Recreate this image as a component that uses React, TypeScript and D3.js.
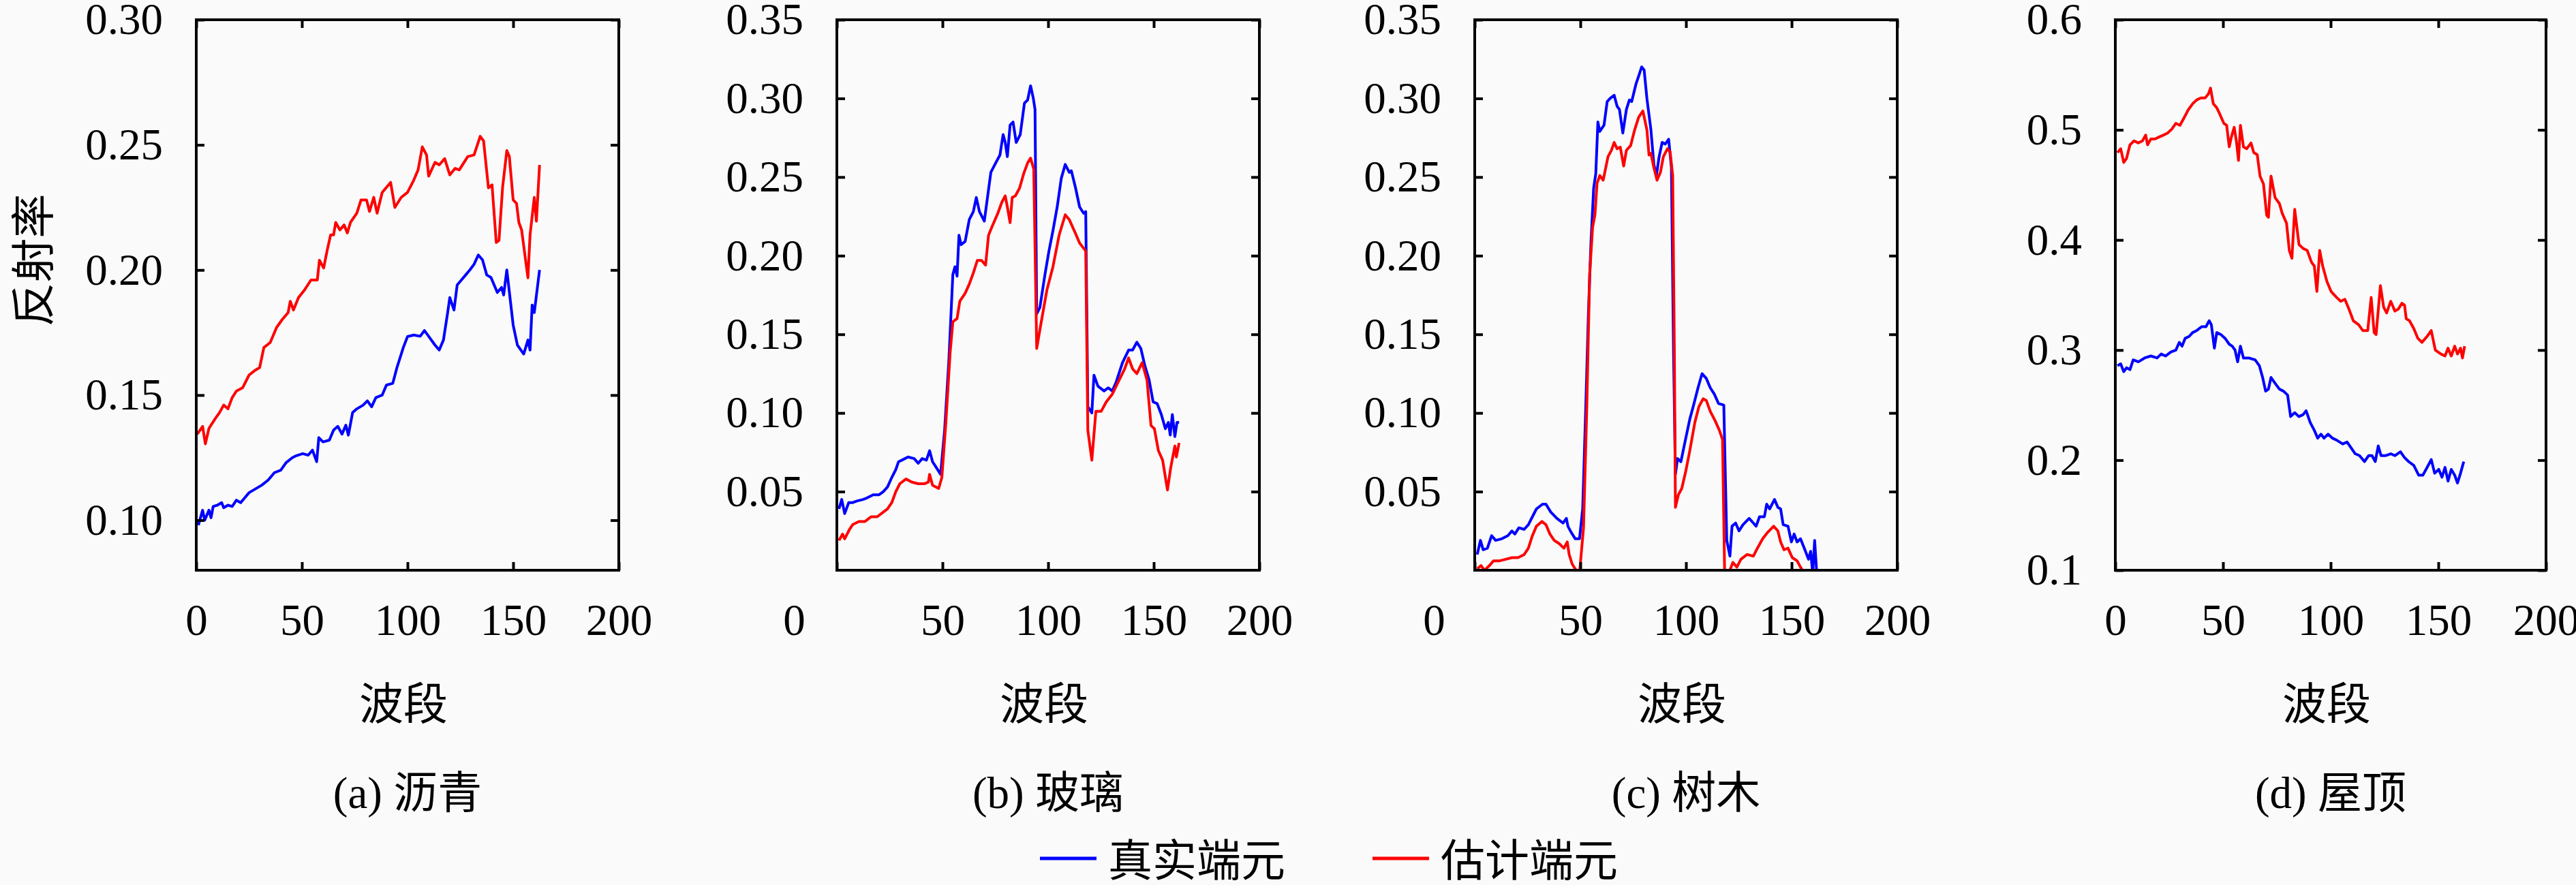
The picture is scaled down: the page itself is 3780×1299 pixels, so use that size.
import { useEffect, useRef } from "react";
import * as d3 from "d3";

type Pt = [number, number]; // [band, reflectance]

// ---- data ----
const asphaltTrue: Pt[] = [
  [1, 0.098], [3, 0.104], [4, 0.1], [6, 0.104], [7, 0.101], [8, 0.1055], [10, 0.106], [12, 0.107], [13, 0.105],
  [15, 0.106], [17, 0.1055], [19, 0.108], [21, 0.107], [23, 0.109], [25, 0.111], [28, 0.1125], [31, 0.114],
  [34, 0.116], [37, 0.119], [40, 0.12], [42.5, 0.123], [45.5, 0.125], [47.4, 0.1258], [50.4, 0.1266], [53, 0.126],
  [55, 0.128], [57, 0.1234], [58, 0.133], [60, 0.1313], [63, 0.132], [65, 0.136], [67, 0.1375], [69, 0.1344],
  [70.8, 0.138], [72, 0.134], [74, 0.143], [76, 0.1445], [79, 0.146], [81, 0.1477], [83, 0.1453], [85, 0.149],
  [88, 0.15], [90, 0.154], [93, 0.1547], [95, 0.161], [98, 0.169], [100, 0.1734], [103, 0.174], [106, 0.1735],
  [108, 0.1758], [110, 0.1735], [113, 0.17], [115, 0.168], [117, 0.172], [119, 0.183], [120, 0.189], [122, 0.184],
  [123.5, 0.194], [125.5, 0.196], [127.5, 0.198], [129.5, 0.2], [131.5, 0.2023], [133.5, 0.206], [135.5, 0.204],
  [137.5, 0.198], [139.5, 0.197], [142.5, 0.191], [144.5, 0.193], [145.5, 0.19], [147, 0.2], [150, 0.178],
  [152, 0.17], [155, 0.1664], [157, 0.172], [158, 0.168], [159, 0.186], [160, 0.183], [162.5, 0.2],
];
const asphaltEst: Pt[] = [
  [0.5, 0.1344], [3, 0.1375], [4.3, 0.1305], [6, 0.1367], [9, 0.1406], [11, 0.143], [13, 0.146], [15, 0.1445],
  [17, 0.149], [19, 0.1516], [22, 0.153], [25, 0.158], [28, 0.16], [30, 0.161], [32, 0.169], [35, 0.171],
  [38, 0.177], [40.5, 0.18], [43.5, 0.183], [44.5, 0.1875], [46, 0.184], [48.4, 0.189], [51.4, 0.1922],
  [54.3, 0.196], [57.3, 0.196], [58.3, 0.2039], [60.3, 0.2008], [62, 0.208], [63.6, 0.214], [65, 0.214],
  [66, 0.219], [68, 0.216], [70, 0.218], [71.5, 0.2148], [73, 0.219], [76, 0.2227], [78, 0.228], [80.6, 0.228],
  [82, 0.2234], [84, 0.229], [85.6, 0.2227], [88, 0.231], [92, 0.235], [94, 0.225], [97, 0.229], [100, 0.231],
  [103, 0.236], [105, 0.24], [107, 0.2492], [109, 0.246], [110, 0.2375], [113, 0.243], [115, 0.242],
  [117.6, 0.2445], [120, 0.238], [122.5, 0.2406], [124.5, 0.24], [128.5, 0.2453], [131.5, 0.246], [134.4, 0.2534],
  [136, 0.2516], [138.3, 0.2328], [140, 0.234], [142, 0.211], [143.3, 0.2118], [145, 0.233], [147, 0.2477],
  [148.2, 0.2453], [150, 0.228], [151.6, 0.2266], [152.7, 0.219], [154, 0.216], [156.5, 0.2], [157, 0.1969],
  [158, 0.214], [160, 0.229], [161, 0.2195], [162.5, 0.242],
];
const glassTrue: Pt[] = [
  [1, 0.039], [2.3, 0.045], [3.7, 0.036], [5.6, 0.043], [7.5, 0.043], [9.5, 0.044], [12.4, 0.045], [14.3, 0.046],
  [17.2, 0.048], [20, 0.048], [22, 0.05], [24, 0.053], [26, 0.059], [27.9, 0.064], [29.2, 0.069], [30.8, 0.07],
  [33.7, 0.072], [36.6, 0.071], [38.5, 0.068], [40.4, 0.071], [42.4, 0.07], [43.9, 0.076], [45.3, 0.069],
  [47.2, 0.065], [49.1, 0.061], [51, 0.089], [53, 0.133], [54.9, 0.188], [55.9, 0.193], [56.9, 0.187],
  [57.8, 0.213], [58.8, 0.207], [60.7, 0.209], [62.7, 0.223], [64.6, 0.228], [66, 0.237], [67.5, 0.228],
  [69.8, 0.222], [71.4, 0.238], [72.9, 0.253], [75.2, 0.259], [77.2, 0.264], [78.7, 0.277], [79.7, 0.272],
  [80.7, 0.263], [82, 0.283], [83.4, 0.285], [84.9, 0.272], [86.8, 0.277], [88.8, 0.297], [90.3, 0.299],
  [91.7, 0.308], [93, 0.3], [93.8, 0.293], [94.6, 0.163], [96.1, 0.167], [98.5, 0.188], [100.4, 0.203],
  [102.3, 0.216], [104.3, 0.231], [106.2, 0.249], [108.1, 0.258], [110, 0.253], [111, 0.254], [113, 0.243],
  [114.9, 0.231], [116.8, 0.227], [117.8, 0.228], [118.8, 0.104], [120.7, 0.1], [121.7, 0.124], [123.6, 0.117],
  [126.5, 0.114], [128.4, 0.116], [130.4, 0.114], [132.3, 0.12], [135.2, 0.132], [138.1, 0.14], [140, 0.14],
  [142, 0.145], [143.9, 0.141], [145.8, 0.13], [147.8, 0.121], [149.7, 0.107], [151.6, 0.106], [153.6, 0.099],
  [155.5, 0.09], [156.9, 0.094], [157.8, 0.086], [158.8, 0.099], [160, 0.085], [161, 0.094], [162, 0.094],
];
const glassEst: Pt[] = [
  [1, 0.019], [2.7, 0.023], [3.7, 0.02], [6, 0.026], [7.5, 0.029], [10.4, 0.031], [13.3, 0.031], [16.2, 0.034],
  [19.1, 0.034], [22, 0.037], [24, 0.039], [26, 0.043], [27.9, 0.05], [29.8, 0.055], [32.7, 0.058], [35.6, 0.056],
  [38.5, 0.055], [41.4, 0.055], [43.3, 0.056], [43.9, 0.061], [45.3, 0.054], [48.2, 0.052], [49.7, 0.059],
  [51.6, 0.094], [53.6, 0.138], [54.9, 0.158], [56.9, 0.16], [58.2, 0.171], [60.7, 0.176], [62.7, 0.182],
  [64.6, 0.189], [66.5, 0.197], [68.5, 0.197], [70.4, 0.194], [71.8, 0.213], [73.3, 0.218], [76.2, 0.227],
  [78.1, 0.234], [79.7, 0.238], [80.7, 0.231], [82, 0.221], [83, 0.237], [84.5, 0.238], [86.5, 0.243],
  [88.4, 0.252], [90.3, 0.259], [91.7, 0.262], [93.2, 0.255], [94.6, 0.141], [96.5, 0.156], [99.4, 0.178],
  [102.3, 0.193], [105.2, 0.213], [108.1, 0.226], [110, 0.223], [113, 0.214], [114.9, 0.208], [117.8, 0.203],
  [118.8, 0.089], [120.7, 0.07], [122.6, 0.101], [125.1, 0.101], [127.5, 0.107], [130.4, 0.112], [133.3, 0.12],
  [136.2, 0.128], [138.1, 0.135], [140, 0.128], [142, 0.125], [144.5, 0.132], [146.8, 0.121], [148.7, 0.092],
  [150.3, 0.09], [152.2, 0.076], [154.2, 0.07], [156.5, 0.051], [158, 0.065], [160, 0.079], [160.7, 0.072],
  [162, 0.081],
];
const treeTrue: Pt[] = [
  [1.2, 0.01], [2.7, 0.019], [4, 0.013], [6, 0.014], [8, 0.022], [9.9, 0.019], [12.8, 0.02], [15.7, 0.022],
  [17.6, 0.025], [19, 0.023], [20.9, 0.027], [23.4, 0.026], [25.4, 0.029], [27.3, 0.034], [29.2, 0.039],
  [32.1, 0.042], [33.7, 0.042], [36, 0.037], [38.9, 0.033], [41.8, 0.03], [43.4, 0.033], [44.1, 0.028],
  [45.7, 0.024], [47.6, 0.02], [49.6, 0.02], [51.1, 0.039], [52.5, 0.101], [53.8, 0.163], [55, 0.208],
  [56.3, 0.243], [57.3, 0.252], [58.3, 0.285], [59.2, 0.279], [61.2, 0.283], [62.7, 0.298], [64.1, 0.3],
  [66, 0.302], [67.4, 0.295], [68.5, 0.293], [70.1, 0.278], [71.8, 0.293], [73.2, 0.299], [74.3, 0.298],
  [76.3, 0.309], [77.8, 0.315], [79, 0.32], [80.2, 0.318], [81.5, 0.3], [83.4, 0.28], [84.8, 0.258], [86, 0.251],
  [87.3, 0.263], [88.7, 0.272], [90.2, 0.271], [91.8, 0.274], [93.1, 0.256], [94.1, 0.139], [95, 0.061],
  [96, 0.071], [97.6, 0.069], [99.9, 0.084], [101.8, 0.096], [103.8, 0.106], [105.7, 0.116], [107.6, 0.125],
  [109.6, 0.122], [111.5, 0.116], [113.4, 0.112], [115.4, 0.106], [117.9, 0.105], [119.3, 0.019], [120.8, 0.009],
  [121.8, 0.028], [123.5, 0.03], [125.1, 0.025], [127, 0.029], [129.9, 0.033], [131.9, 0.03], [133.2, 0.028],
  [134.8, 0.034], [137.1, 0.034], [138.2, 0.042], [139.6, 0.039], [141.9, 0.045], [143.5, 0.04], [144.8, 0.039],
  [146, 0.029], [148.3, 0.028], [149.9, 0.018], [151.2, 0.023], [152.6, 0.018], [154.2, 0.02], [156, 0.014],
  [158, 0.007], [159, 0.012], [160, -0.002], [160.9, 0.019], [161.9, -0.002],
];
const treeEst: Pt[] = [
  [1.2, 0.001], [3, 0.003], [4.6, 0], [7, 0.003], [8.9, 0.006], [11.8, 0.006], [14.7, 0.007], [17.6, 0.008],
  [20.5, 0.008], [23.4, 0.01], [25.4, 0.014], [27.3, 0.022], [29.2, 0.028], [31.8, 0.031], [33.7, 0.029],
  [35.6, 0.023], [37.6, 0.019], [39.9, 0.017], [42.2, 0.014], [43.8, 0.018], [44.7, 0.01], [46.1, 0.004],
  [48, 0], [49.6, -0.002], [51.5, 0.027], [53, 0.101], [54.4, 0.188], [55.8, 0.218], [56.9, 0.226],
  [57.9, 0.246], [59.2, 0.251], [60.8, 0.248], [63.1, 0.263], [64.7, 0.267], [66, 0.272], [67.4, 0.268],
  [68.9, 0.269], [70.5, 0.257], [71.8, 0.267], [73.8, 0.27], [75.7, 0.28], [77.6, 0.288], [79.6, 0.292],
  [81.5, 0.28], [82.5, 0.264], [83.4, 0.265], [84.8, 0.256], [86.3, 0.248], [87.9, 0.253], [89.3, 0.263],
  [91.2, 0.268], [92.5, 0.266], [93.7, 0.251], [94.5, 0.139], [95, 0.04], [96.4, 0.048], [98, 0.052],
  [99.9, 0.063], [101.8, 0.076], [104.2, 0.094], [106.1, 0.104], [108.1, 0.109], [109.6, 0.108], [111.5, 0.101],
  [113.8, 0.095], [115.8, 0.089], [117.3, 0.083], [118.3, -0.002], [120.2, -0.002], [122.2, 0.005],
  [124.1, 0.002], [126, 0.007], [128.9, 0.01], [131.9, 0.009], [133.8, 0.014], [136.3, 0.02], [138.6, 0.024],
  [141.5, 0.028], [143.5, 0.025], [144.8, 0.018], [146.4, 0.013], [148.3, 0.014], [150.3, 0.008], [152.6, 0.006],
  [154.2, 0.002], [156, -0.002], [159, -0.002], [161.9, -0.002],
];
const roofTrue: Pt[] = [
  [1, 0.2857], [2.5, 0.2875], [3.9, 0.2804], [5.2, 0.2839], [6.8, 0.2822], [8.3, 0.2911], [10.7, 0.2893],
  [13.6, 0.2928], [16.5, 0.2946], [19.4, 0.2928], [21.3, 0.2964], [23.3, 0.2946], [25.8, 0.2982], [28.1, 0.2999],
  [29.7, 0.307], [31, 0.3035], [32.4, 0.3106], [34.3, 0.3124], [35.9, 0.3159], [37.8, 0.3177], [40.1, 0.3212],
  [42.1, 0.3212], [43.6, 0.3266], [44.6, 0.323], [46, 0.3017], [47.1, 0.3159], [49, 0.3141], [51, 0.3106],
  [52.9, 0.3053], [54.3, 0.3035], [55.6, 0.2999], [56.8, 0.2893], [58.1, 0.3035], [59.5, 0.2928], [62, 0.2928],
  [64.9, 0.2911], [66.9, 0.2857], [68.4, 0.2751], [69.8, 0.2627], [71.1, 0.2645], [72.3, 0.2751], [74.2, 0.2698],
  [76.2, 0.2645], [78.1, 0.2627], [80, 0.2591], [81.4, 0.2396], [83.3, 0.2431], [85.3, 0.2396], [87.2, 0.2413],
  [88.6, 0.2449], [90.5, 0.2342], [92.4, 0.2271], [94, 0.22], [95.5, 0.2236], [96.9, 0.22], [98.8, 0.2236],
  [100.8, 0.22], [102.7, 0.2183], [105.6, 0.2147], [107.6, 0.2165], [109.5, 0.2112], [111.4, 0.2058],
  [113.4, 0.2041], [115.7, 0.1987], [117.6, 0.2041], [119.2, 0.2041], [120.7, 0.1987], [122.1, 0.2129],
  [123.4, 0.2041], [125.4, 0.2041], [127.9, 0.2058], [129.8, 0.2041], [132.4, 0.2076], [134.3, 0.2023],
  [136.2, 0.1987], [138.6, 0.1952], [140.9, 0.1863], [142.8, 0.1863], [144.8, 0.1934], [146.7, 0.2005],
  [148.3, 0.1881], [150.2, 0.1916], [151.7, 0.1845], [153.1, 0.1934], [154.5, 0.181], [156, 0.1916],
  [157.6, 0.1863], [158.9, 0.1792], [160.3, 0.1881], [161.8, 0.1987],
];
const roofEst: Pt[] = [
  [1, 0.4793], [2.5, 0.4828], [3.9, 0.4704], [5.2, 0.474], [6.8, 0.4864], [8.7, 0.49], [10.7, 0.4881],
  [12.6, 0.49], [14.1, 0.4952], [15, 0.4864], [16.5, 0.4917], [18.4, 0.4917], [20.3, 0.4935], [22.3, 0.4952],
  [24.2, 0.497], [26.2, 0.5006], [28.1, 0.5059], [30, 0.5041], [32, 0.5112], [33.9, 0.5183], [35.9, 0.5237],
  [37.8, 0.5272], [39.7, 0.529], [41.7, 0.529], [43.2, 0.5325], [44.2, 0.5379], [45.5, 0.5237], [47.1, 0.5201],
  [48.4, 0.5148], [50.4, 0.5059], [51.7, 0.5041], [52.9, 0.4846], [53.9, 0.4935], [55.2, 0.5023], [56.2, 0.49],
  [57.2, 0.4722], [58.1, 0.5041], [59.5, 0.4846], [61, 0.4828], [63, 0.4881], [64.3, 0.4793], [65.9, 0.4775],
  [67.2, 0.458], [68.8, 0.4509], [70.3, 0.4224], [71.1, 0.4206], [72.3, 0.458], [74.2, 0.4384], [76.2, 0.4331],
  [77.5, 0.4242], [79.5, 0.4153], [80.8, 0.3905], [82, 0.3834], [83.3, 0.4278], [85.3, 0.3958], [87.2, 0.3923],
  [89.1, 0.3905], [91.1, 0.3798], [92.4, 0.3763], [93.6, 0.3532], [94.9, 0.3905], [96.3, 0.3763], [98.3, 0.3621],
  [100.2, 0.3532], [102.7, 0.3479], [104.7, 0.3443], [106.6, 0.3461], [108.5, 0.3372], [110.5, 0.3266],
  [113, 0.323], [114.9, 0.3177], [117.2, 0.3177], [118.8, 0.3479], [120.2, 0.3159], [121.1, 0.3141],
  [123.1, 0.3585], [124.6, 0.339], [126, 0.3337], [127.9, 0.3443], [129.8, 0.3354], [131.4, 0.3372],
  [133.1, 0.3425], [134.3, 0.3408], [135.1, 0.3284], [136.6, 0.3266], [138.6, 0.3195], [140.5, 0.3106],
  [142.4, 0.307], [144.8, 0.3124], [146.7, 0.3177], [148.6, 0.2999], [151.2, 0.2964], [153.1, 0.2946],
  [154.5, 0.3017], [156, 0.2946], [157.6, 0.3035], [158.9, 0.2964], [160.3, 0.3017], [161.2, 0.2928],
  [162.2, 0.3035],
];

const xTicks = [0, 50, 100, 150, 200];
const captions = ["(a) 沥青", "(b) 玻璃", "(c) 树木", "(d) 屋顶"];
const yDomains: [number, number][] = [[0.08, 0.3], [0, 0.35], [0, 0.35], [0.1, 0.6]];
const yTickSets = [
  [0.1, 0.15, 0.2, 0.25, 0.3],
  [0.05, 0.1, 0.15, 0.2, 0.25, 0.3, 0.35],
  [0.05, 0.1, 0.15, 0.2, 0.25, 0.3, 0.35],
  [0.1, 0.2, 0.3, 0.4, 0.5, 0.6],
];
const yFormats = [".2f", ".2f", ".2f", ".1f"];
const trueSeries = [asphaltTrue, glassTrue, treeTrue, roofTrue];
const estSeries = [asphaltEst, glassEst, treeEst, roofEst];
const legendLabels = ["真实端元", "估计端元"];

// ---- layout ----
const W = 3780;
const H = 1299;
const TOP = 29;
const BOTTOM = 837;
const boxes = [
  { left: 288, width: 620, zeroShift: 0 },
  { left: 1228, width: 620, zeroShift: -63 },
  { left: 2164, width: 620, zeroShift: -60 },
  { left: 3104, width: 632, zeroShift: 0 },
];
const BLUE = "#0000ff";
const RED = "#ff0000";
const SERIF = "'Liberation Serif', 'Noto Sans CJK SC', serif";
const CJK = "'Noto Sans CJK SC', sans-serif";
const FS = 65;

export default function App() {
  const ref = useRef<SVGSVGElement | null>(null);

  useEffect(() => {
    const svgEl = ref.current;
    if (!svgEl) return;
    const svg = d3.select(svgEl);
    svg.selectAll("*").remove();

    svg.append("rect").attr("width", W).attr("height", H).attr("fill", "#fafafa");

    boxes.forEach((b, i) => {
      const x = d3.scaleLinear().domain([0, 200]).range([b.left, b.left + b.width]);
      const y = d3.scaleLinear().domain(yDomains[i]).range([BOTTOM, TOP]);
      const g = svg.append("g");

      // clip so lines below the axis floor are cut like in the original
      const clipId = `clip-${i}`;
      g.append("clipPath")
        .attr("id", clipId)
        .append("rect")
        .attr("x", b.left)
        .attr("y", TOP)
        .attr("width", b.width)
        .attr("height", BOTTOM - TOP);

      const line = d3
        .line<Pt>()
        .x((d) => x(d[0]))
        .y((d) => y(d[1]));

      [
        { data: trueSeries[i], color: BLUE },
        { data: estSeries[i], color: RED },
      ].forEach((s) => {
        g.append("path")
          .datum(s.data)
          .attr("clip-path", `url(#${clipId})`)
          .attr("fill", "none")
          .attr("stroke", s.color)
          .attr("stroke-width", 4)
          .attr("stroke-linejoin", "round")
          .attr("d", line);
      });

      // ------- axes (inward ticks, mirrored on top/right) -------
      const styleAxis = (sel: d3.Selection<SVGGElement, unknown, null, undefined>) => {
        sel.select(".domain").remove();
        sel.selectAll(".tick line").attr("stroke", "#000").attr("stroke-width", 4);
        sel
          .selectAll("text")
          .attr("font-family", SERIF)
          .attr("font-size", FS)
          .attr("fill", "#000");
      };
      const dropText = (sel: d3.Selection<SVGGElement, unknown, null, undefined>) => {
        sel.selectAll("text").remove();
      };

      g.append("g")
        .attr("transform", `translate(0,${BOTTOM})`)
        .call(d3.axisBottom(x).tickValues(xTicks).tickSize(-12).tickPadding(49).tickFormat(d3.format("d")))
        .call(styleAxis)
        .call((sel) =>
          sel.selectAll<SVGTextElement, number>("text").attr("x", (d) => (d === 0 ? b.zeroShift : 0))
        );
      g.append("g")
        .attr("transform", `translate(0,${TOP})`)
        .call(d3.axisTop(x).tickValues(xTicks).tickSize(-12))
        .call(styleAxis)
        .call(dropText);
      g.append("g")
        .attr("transform", `translate(${b.left},0)`)
        .call(
          d3
            .axisLeft(y)
            .tickValues(yTickSets[i])
            .tickSize(-12)
            .tickPadding(49)
            .tickFormat(d3.format(yFormats[i]) as any)
        )
        .call(styleAxis);
      g.append("g")
        .attr("transform", `translate(${b.left + b.width},0)`)
        .call(d3.axisRight(y).tickValues(yTickSets[i]).tickSize(-12))
        .call(styleAxis)
        .call(dropText);

      // frame
      g.append("rect")
        .attr("x", b.left)
        .attr("y", TOP)
        .attr("width", b.width)
        .attr("height", BOTTOM - TOP)
        .attr("fill", "none")
        .attr("stroke", "#000")
        .attr("stroke-width", 4);

      const cx = b.left + b.width / 2;
      g.append("text")
        .attr("x", cx - 6)
        .attr("y", 1056)
        .attr("text-anchor", "middle")
        .attr("font-family", CJK)
        .attr("font-size", FS)
        .text("波段");
      g.append("text")
        .attr("x", cx)
        .attr("y", 1186)
        .attr("text-anchor", "middle")
        .attr("font-family", SERIF)
        .attr("font-size", FS)
        .text(captions[i]);
    });

    // y title
    svg
      .append("text")
      .attr("transform", `translate(72,382) rotate(-90)`)
      .attr("text-anchor", "middle")
      .attr("font-family", CJK)
      .attr("font-size", FS)
      .text("反射率");

    // legend
    const legend = [
      { x: 1526, color: BLUE, label: legendLabels[0] },
      { x: 2014, color: RED, label: legendLabels[1] },
    ];
    legend.forEach((l) => {
      svg.append("line")
        .attr("x1", l.x)
        .attr("x2", l.x + 83)
        .attr("y1", 1260)
        .attr("y2", 1260)
        .attr("stroke", l.color)
        .attr("stroke-width", 5);
      svg.append("text")
        .attr("x", l.x + 100)
        .attr("y", 1286)
        .attr("font-family", CJK)
        .attr("font-size", FS)
        .text(l.label);
    });
  }, []);

  return (
    <div style={{ position: "absolute", left: 0, top: 0 }}>
      <svg ref={ref} width={W} height={H} style={{ display: "block" }} />
    </div>
  );
}
